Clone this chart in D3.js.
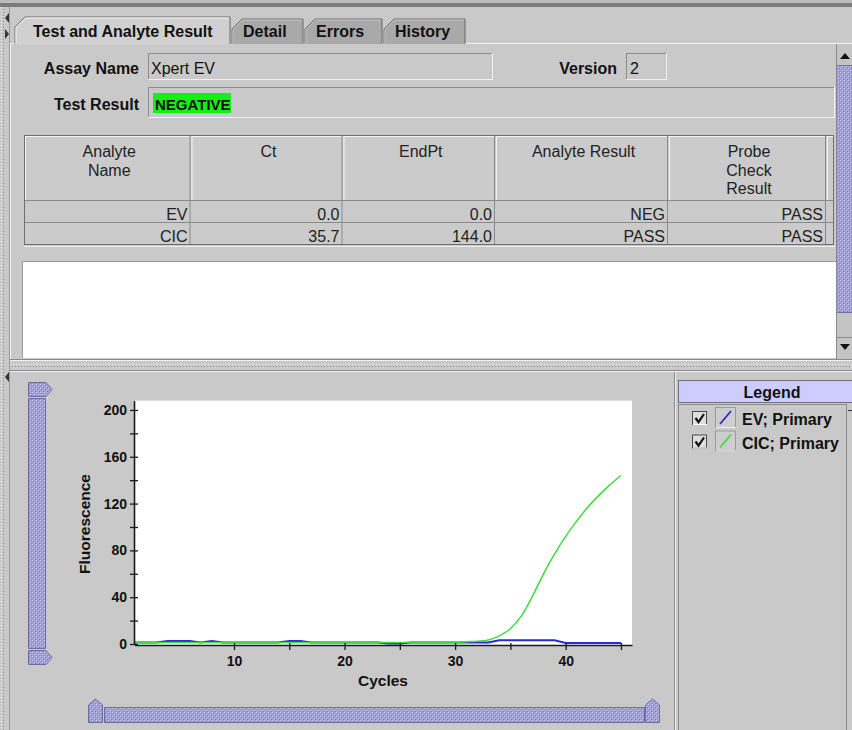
<!DOCTYPE html>
<html><head><meta charset="utf-8">
<script src="https://cdn.jsdelivr.net/npm/d3@7"></script>
<style>
html,body{margin:0;padding:0;background:#c9c9c9;overflow:hidden;}
svg{display:block;font-family:"Liberation Sans",Arial,sans-serif;}
</style></head><body>
<script>
// ---------------- data ----------------
const tabLabels = ["Test and Analyte Result", "Detail", "Errors", "History"];
const assayName = "Xpert EV";
const assayVersion = "2";
const testResult = "NEGATIVE";
const tableHeaders = [["Analyte", "Name"], ["Ct"], ["EndPt"], ["Analyte Result"], ["Probe", "Check", "Result"]];
const analyteNames = ["EV", "CIC"];
const ctValues = ["0.0", "35.7"];
const endPtValues = ["0.0", "144.0"];
const analyteResults = ["NEG", "PASS"];
const probeCheckResults = ["PASS", "PASS"];

const cycles = [1,2,3,4,5,6,7,8,9,10,11,12,13,14,15,16,17,18,19,20,21,22,23,24,25,26,27,28,29,30,31,32,33,34,35,36,37,38,39,40,41,42,43,44,45];
const evFluor = [1.2,1.2,1.2,2.5,2.5,2.5,1.2,2.5,1.2,1.2,1.2,1.2,1.2,1.2,2.5,2.5,1.2,1.2,1.2,1.2,1.2,1.2,1.2,0.5,0.5,1.2,1.2,1.2,1.2,1.2,1.2,1.2,1.2,3.2,3.2,3.2,3.2,3.2,3.2,0.8,0.8,0.8,0.8,0.8,0.8];
const cicFluor = [1.2,1.2,1.2,1.2,1.2,1.2,1.2,1.2,1.2,1.2,1.2,1.2,1.2,1.2,1.2,1.2,1.2,1.2,1.2,1.2,1.2,1.2,1.2,1.2,1.2,1.2,1.2,1.2,1.2,1.2,2.0,2.4,3.5,7,13,24,41,60,77,92,105,117,127,136,144];
const yTicks = [0, 40, 80, 120, 160, 200];
const yMinorTicks = [20, 60, 100, 140, 180];
const xTicks = [10, 20, 30, 40];
const xMinorTicks = [15, 25, 35, 45];
const legendLabels = ["EV; Primary", "CIC; Primary"];
const xTitle = "Cycles";
const yTitle = "Fluorescence";

// ---------------- styles ----------------
const BG = "#c9c9c9";
const seriesColors = ["#2a2ad6", "#3fdc3f"];

const W = 852, H = 730;
const svg = d3.select("body").append("svg").attr("width", W).attr("height", H);
const defs = svg.append("defs");

const pat = defs.append("pattern").attr("id", "bump").attr("width", 4).attr("height", 4).attr("patternUnits", "userSpaceOnUse");
pat.append("rect").attr("width", 4).attr("height", 4).attr("fill", "#a0a0d4");
[[0,0,"#d0d0f2"],[2,2,"#d0d0f2"],[1,1,"#7e7eb4"],[3,3,"#7e7eb4"]].forEach(d =>
  pat.append("rect").attr("x", d[0]).attr("y", d[1]).attr("width", 1).attr("height", 1).attr("fill", d[2]));
const dots = defs.append("pattern").attr("id", "dots").attr("width", 3).attr("height", 3).attr("patternUnits", "userSpaceOnUse");
dots.append("rect").attr("width", 3).attr("height", 3).attr("fill", BG);
dots.append("rect").attr("width", 1).attr("height", 1).attr("fill", "#8a8a8a");
dots.append("rect").attr("x", 1).attr("y", 1).attr("width", 1).attr("height", 1).attr("fill", "#f0f0f0");

svg.append("rect").attr("width", W).attr("height", H).attr("fill", BG);

function line(x1, y1, x2, y2, c, w) {
  svg.append("line").attr("x1", x1).attr("y1", y1).attr("x2", x2).attr("y2", y2)
    .attr("stroke", c).attr("stroke-width", w || 1);
}
function txt(x, y, s, opt) {
  opt = opt || {};
  return svg.append("text").attr("x", x).attr("y", y).text(s)
    .attr("font-size", opt.size || 16).attr("font-weight", opt.bold ? "bold" : "normal")
    .attr("text-anchor", opt.anchor || "start").attr("fill", opt.fill || "#111");
}
function inset(x, y, w, h, fill) {
  svg.append("rect").attr("x", x).attr("y", y).attr("width", w).attr("height", h).attr("fill", fill || BG);
  line(x, y + 0.5, x + w, y + 0.5, "#8c8c8c");
  line(x + 0.5, y, x + 0.5, y + h, "#8c8c8c");
  line(x, y + h - 0.5, x + w, y + h - 0.5, "#f2f2f2");
  line(x + w - 0.5, y, x + w - 0.5, y + h, "#f2f2f2");
}

// ---------- window chrome ----------
svg.append("rect").attr("x", 0).attr("y", 0).attr("width", W).attr("height", 3).attr("fill", "#bcbcbc");
svg.append("rect").attr("x", 0).attr("y", 3).attr("width", W).attr("height", 4).attr("fill", "#7c7c7c");
svg.append("rect").attr("x", 1).attr("y", 7).attr("width", 3).attr("height", H - 7).attr("fill", "url(#dots)");
line(9.5, 7, 9.5, H, "#9a9a9a");
svg.append("path").attr("d", "M9,13 L5,18 L9,23 Z").attr("fill", "#333");
svg.append("path").attr("d", "M5,29 L9,34 L5,39 Z").attr("fill", "#333");
svg.append("path").attr("d", "M9,372 L5,377 L9,382 Z").attr("fill", "#333");

// ---------- tabs ----------
const tabs = [[15, 230, 17, 33], [232, 303, 19, 243], [305, 382, 19, 316], [384, 465, 19, 395]];
line(10, 43.5, W, 43.5, "#f4f4f4");
tabs.forEach((t, i) => {
  const [x0, x1, y0, tx] = t;
  const sel = i === 0;
  svg.append("path").attr("d", `M${x0},44 L${x0},${y0 + 10} L${x0 + 10},${y0} L${x1},${y0} L${x1},44`)
    .attr("fill", sel ? "#d0d0d0" : "#a9a9a9").attr("stroke", "#6a6a6a");
  svg.append("path").attr("d", `M${x0 + 1},44 L${x0 + 1},${y0 + 10.5} L${x0 + 10.5},${y0 + 1} L${x1 - 1},${y0 + 1}`)
    .attr("fill", "none").attr("stroke", sel ? "#f6f6f6" : "#c4c4c4");
  txt(tx, 37, tabLabels[i], { bold: true });
});
svg.append("rect").attr("x", 16).attr("y", 43).attr("width", 213).attr("height", 2).attr("fill", "#d0d0d0");
line(10.5, 44, 10.5, 359, "#f4f4f4");

// ---------- assay fields ----------
txt(139, 74, "Assay Name", { bold: true, anchor: "end" });
inset(148, 53, 345, 27);
txt(151, 74, assayName);
txt(617, 74, "Version", { bold: true, anchor: "end" });
inset(626, 53, 41, 27);
txt(630, 74, assayVersion);
txt(139, 110, "Test Result", { bold: true, anchor: "end" });
inset(148, 87, 687, 31);
svg.append("rect").attr("x", 153).attr("y", 93).attr("width", 78).attr("height", 20).attr("fill", "#14f014");
txt(155, 110, testResult, { bold: true, size: 15 });

// ---------- table ----------
const colX = [24, 190.5, 342.5, 495, 668, 826, 834];
const tTop = 135, hBot = 201, rowH = 22;
svg.append("rect").attr("x", colX[0]).attr("y", tTop).attr("width", colX[6] - colX[0]).attr("height", hBot + 2 * rowH - tTop)
  .attr("fill", "#cbcbcb");
for (let c = 0; c < 6; c++) {
  const x0 = colX[c], x1 = colX[c + 1];
  line(x0 + 1, tTop + 1.5, x1 - 1, tTop + 1.5, "#f4f4f4");
  line(x0 + 1.5, tTop + 1, x0 + 1.5, hBot - 1, "#f4f4f4");
  line(x1 - 0.5, tTop, x1 - 0.5, hBot, "#8a8a8a");
}
line(colX[0], hBot - 0.5, colX[6], hBot - 0.5, "#8a8a8a");
tableHeaders.forEach((lines, c) => {
  const cx = (colX[c] + colX[c + 1]) / 2 + 2;
  lines.forEach((s, k) => txt(cx, 157 + k * 18.5, s, { anchor: "middle", fill: "#222" }));
});
for (let r = 1; r <= 2; r++) line(colX[0], hBot + r * rowH - 0.5, colX[6], hBot + r * rowH - 0.5, "#8a8a8a");
for (let c = 1; c < 6; c++) line(colX[c] - 0.5, hBot, colX[c] - 0.5, hBot + 2 * rowH, "#8a8a8a");
svg.append("rect").attr("x", colX[0] + 0.5).attr("y", tTop + 0.5).attr("width", colX[6] - colX[0] - 1)
  .attr("height", hBot + 2 * rowH - tTop - 1).attr("fill", "none").attr("stroke", "#6f6f6f");
line(colX[0], hBot + 2 * rowH + 1.5, colX[6] + 1, hBot + 2 * rowH + 1.5, "#efefef");
const cols = [analyteNames, ctValues, endPtValues, analyteResults, probeCheckResults];
cols.forEach((vals, c) => vals.forEach((v, r) =>
  txt(colX[c + 1] - 3, hBot + 19 + r * rowH, v, { anchor: "end", fill: "#222" })));

svg.append("rect").attr("x", 22).attr("y", 261).attr("width", 814).attr("height", 97).attr("fill", "#ffffff");
line(22, 261.5, 836, 261.5, "#9a9a9a");
line(22.5, 261, 22.5, 358, "#9a9a9a");

// ---------- vertical scrollbar (top panel) ----------
svg.append("rect").attr("x", 836).attr("y", 44).attr("width", 16).attr("height", 315).attr("fill", "#c4c4c4");
line(836.5, 44, 836.5, 359, "#8a8a8a");
svg.append("path").attr("d", "M840,59 L845,53 L850,59 Z").attr("fill", "#111");
svg.append("rect").attr("x", 837).attr("y", 65).attr("width", 15).attr("height", 248).attr("fill", "url(#bump)");
line(837, 65.5, 852, 65.5, "#7070a8");
line(837, 312.5, 852, 312.5, "#7070a8");
line(837, 337.5, 852, 337.5, "#8a8a8a");
svg.append("path").attr("d", "M840,344 L845,350 L850,344 Z").attr("fill", "#111");

// ---------- splitter ----------
line(10, 359.5, W, 359.5, "#8a8a8a");
line(10, 360.5, W, 360.5, "#efefef");
svg.append("rect").attr("x", 10).attr("y", 364).attr("width", W - 10).attr("height", 3).attr("fill", "url(#dots)");
line(10, 370.5, W, 370.5, "#8a8a8a");
line(10, 371.5, W, 371.5, "#efefef");

// ---------- sliders ----------
function slidePart(d) { svg.append("path").attr("d", d).attr("fill", "url(#bump)").attr("stroke", "#6d6da3"); }
slidePart("M28.5,382.5 H46 L52,389.5 L46,396.5 H28.5 Z");
slidePart("M28.5,398.5 H45.5 V648.5 H28.5 Z");
slidePart("M28.5,650.5 H46 L52,657.5 L46,664.5 H28.5 Z");
slidePart("M88.5,722.5 V705 L95.5,699 L102.5,705 V722.5 Z");
slidePart("M104.5,707.5 H644.5 V722.5 H104.5 Z");
slidePart("M645.5,722.5 V705 L652.5,699 L659.5,705 V722.5 Z");

// ---------- chart ----------
const x = d3.scaleLinear().domain([1, 46]).range([134.5, 632]);
const y = d3.scaleLinear().domain([0, 208]).range([644, 400.6]);
svg.append("rect").attr("x", 135).attr("y", y(208)).attr("width", 632 - 135).attr("height", 645 - y(208)).attr("fill", "#ffffff");

const seriesLine = d3.line().x((d, i) => x(cycles[i])).y(d => y(d));
svg.append("path").datum(evFluor).attr("d", seriesLine).attr("fill", "none")
  .attr("stroke", seriesColors[0]).attr("stroke-width", 2);
svg.append("path").datum(cicFluor).attr("d", seriesLine.curve(d3.curveMonotoneX)).attr("fill", "none")
  .attr("stroke", seriesColors[1]).attr("stroke-width", 1.5);

function styleAxis(g) {
  g.select(".domain").attr("stroke", "#1a1a1a").attr("stroke-width", 1.6);
  g.selectAll(".tick line").attr("stroke", "#1a1a1a").attr("stroke-width", 1.3);
  g.selectAll("text").attr("font-size", 14).attr("font-weight", "bold").attr("fill", "#111")
    .attr("font-family", "'Liberation Sans', Arial, sans-serif");
}
const yAx = svg.append("g").attr("transform", "translate(134,0)")
  .call(d3.axisLeft(y).tickValues(yTicks).tickSizeInner(4).tickSizeOuter(0).tickPadding(3));
yAx.selectAll(".tick line").attr("x2", -4).attr("x1", 4);
styleAxis(yAx);
const yMin = svg.append("g").attr("transform", "translate(134,0)")
  .call(d3.axisLeft(y).tickValues(yMinorTicks).tickFormat("").tickSizeInner(4).tickSizeOuter(0));
yMin.select(".domain").remove();
yMin.selectAll(".tick line").attr("x2", -4).attr("x1", 4);
styleAxis(yMin);

const xAx = svg.append("g").attr("transform", "translate(0,645)")
  .call(d3.axisBottom(x).tickValues(xTicks).tickFormat(d3.format("d")).tickSizeInner(5).tickSizeOuter(0).tickPadding(6));
xAx.selectAll(".tick line").attr("y1", -2);
styleAxis(xAx);
const xMin = svg.append("g").attr("transform", "translate(0,645)")
  .call(d3.axisBottom(x).tickValues(xMinorTicks).tickFormat("").tickSizeInner(5).tickSizeOuter(0));
xMin.select(".domain").remove();
xMin.selectAll(".tick line").attr("y1", -2);
styleAxis(xMin);

txt(383, 686, xTitle, { bold: true, anchor: "middle", size: 15.5 });
svg.append("text").attr("transform", "translate(90,524) rotate(-90)").attr("text-anchor", "middle")
  .attr("font-size", 15.5).attr("font-weight", "bold").attr("fill", "#111").text(yTitle);

// ---------- legend panel ----------
line(674.5, 372, 674.5, H, "#8a8a8a");
line(675.5, 372, 675.5, H, "#efefef");
svg.append("rect").attr("x", 678.5).attr("y", 380.5).attr("width", 175).attr("height", 22).attr("fill", "#ccccff").attr("stroke", "#707070");
txt(772, 398, "Legend", { bold: true, anchor: "middle" });
line(678.5, 404, 678.5, H, "#8a8a8a");
line(678, 404.5, 846, 404.5, "#8a8a8a");
line(846.5, 404, 846.5, H, "#8a8a8a");
line(848, 410.5, 852, 410.5, "#333");
legendLabels.forEach((lab, i) => {
  const oy = i * 23.5;
  svg.append("rect").attr("x", 692.5).attr("y", 411.5 + oy).attr("width", 14).attr("height", 13).attr("fill", "#dedede").attr("stroke", "#4a4a4a");
  line(693, 424.5 + oy, 707, 424.5 + oy, "#fafafa");
  svg.append("path").attr("d", `M695.5,${418 + oy} L698.5,${422 + oy} L704,${414 + oy}`).attr("fill", "none")
    .attr("stroke", "#111").attr("stroke-width", 2.2);
  svg.append("rect").attr("x", 715.5).attr("y", 407.5 + oy).attr("width", 20).attr("height", 20).attr("fill", "#cdcdcd").attr("stroke", "#9a9a9a");
  line(716, 427.5 + oy, 736, 427.5 + oy, "#f2f2f2");
  line(720, 424 + oy, 731, 411 + oy, seriesColors[i], 1.8);
  txt(742, 425 + oy, lab, { bold: true });
});
</script>
</body></html>
